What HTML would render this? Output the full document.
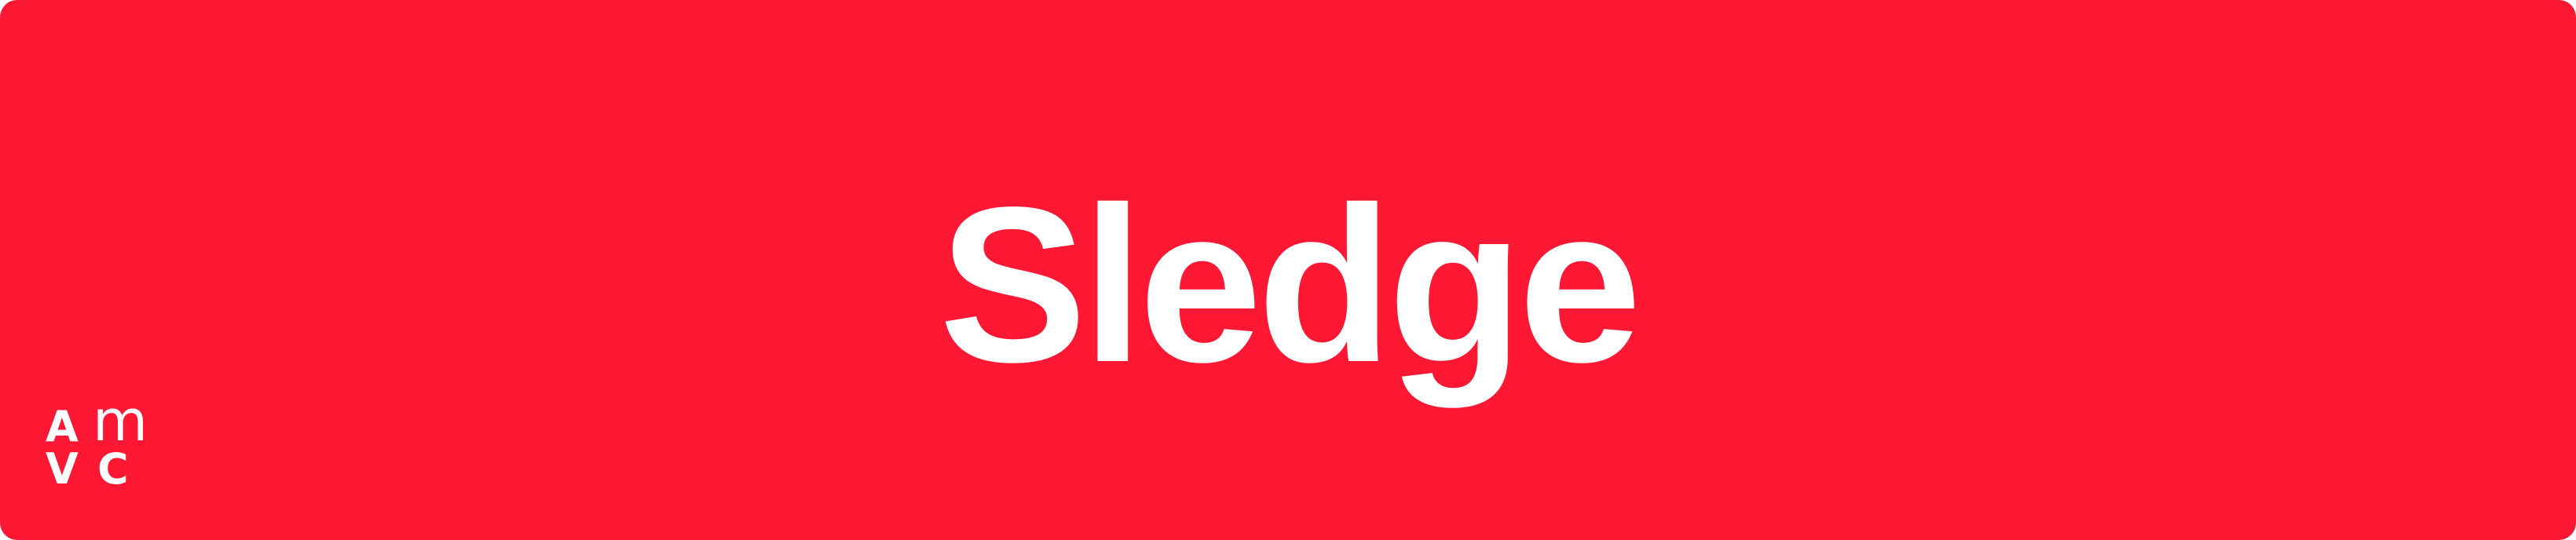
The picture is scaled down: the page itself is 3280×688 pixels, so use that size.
<!DOCTYPE html>
<html><head><meta charset="utf-8"><style>
html,body{margin:0;padding:0;width:3280px;height:688px;overflow:hidden;background:#fff}
#banner{position:absolute;left:0;top:0;width:3280px;height:688px;background:#FF1834;border-radius:22px;overflow:hidden}
#title{position:absolute;left:0;width:3280px;top:188px;text-align:center;font-family:"Liberation Sans",sans-serif;font-weight:bold;font-size:282px;line-height:350px;color:#fff;letter-spacing:-6px}
.lg{position:absolute;font-family:"DejaVu Sans","Liberation Sans",sans-serif;font-size:54px;line-height:54px;color:#fff;font-weight:bold}
</style></head><body>
<div id="banner">
<div id="title">Sledge</div>
<div>
<span class="lg" style="left:58px;top:517px">A</span>
<span class="lg" style="left:118px;top:509px;font-size:72px;font-weight:normal">m</span>
<span class="lg" style="left:58px;top:571px">V</span>
<span class="lg" style="left:124px;top:571px">C</span>
</div>
</div>
</body></html>
